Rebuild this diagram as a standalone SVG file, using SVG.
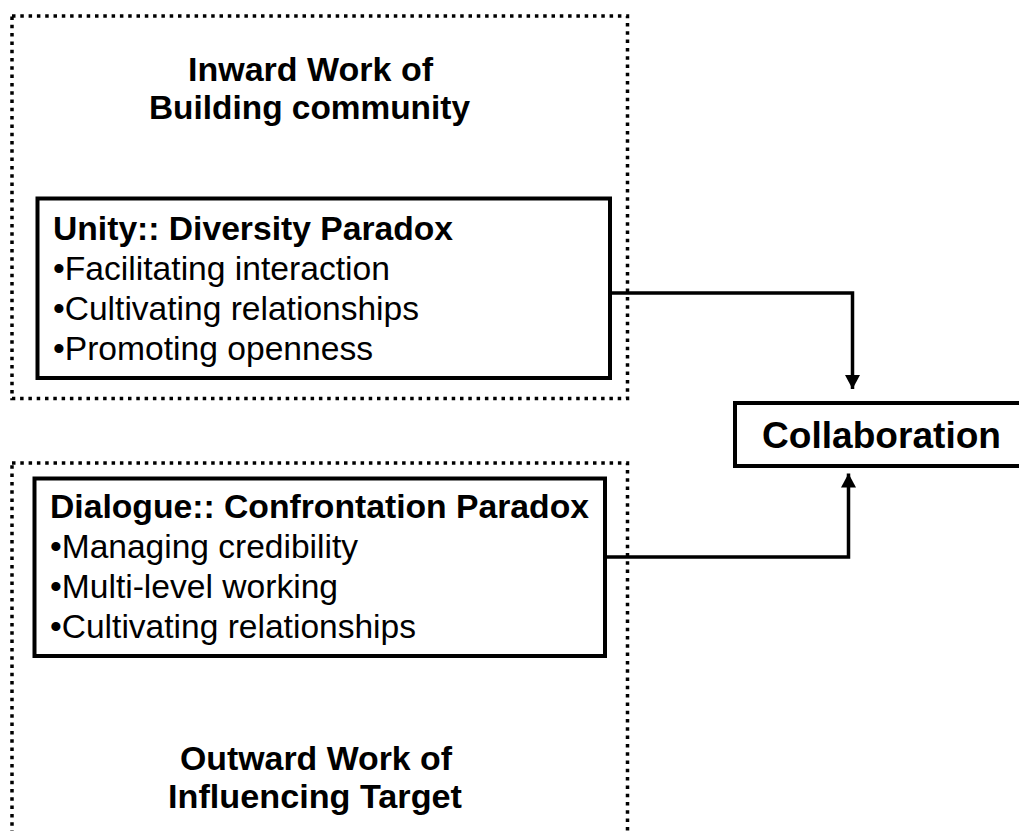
<svg xmlns="http://www.w3.org/2000/svg" width="1019" height="831" viewBox="0 0 1019 831">
<style>
.dot{fill:none;stroke:#000;stroke-width:3.5;stroke-dasharray:3.5 4.8}
.box{fill:#fff;stroke:#000;stroke-width:4}
.con{fill:none;stroke:#000;stroke-width:3.5}
.t{font-family:"Liberation Sans",Arial,Helvetica,sans-serif;fill:#000;font-size:34px}
.b{font-weight:bold}
</style>
<defs>
<marker id="ah" markerWidth="14" markerHeight="15" refX="14" refY="7.5" orient="auto" markerUnits="userSpaceOnUse" viewBox="0 0 14 15">
<path d="M0,0 L14,7.5 L0,15 Z" fill="#000"/>
</marker>
</defs>
<rect width="1019" height="831" fill="#fff"/>
<g id="inward-group">
<rect class="dot" x="12" y="16" width="615.5" height="382.5"/>
<text class="t b" x="310.5" y="81" text-anchor="middle" textLength="245" lengthAdjust="spacingAndGlyphs">Inward Work of</text>
<text class="t b" x="309.5" y="119" text-anchor="middle" textLength="321" lengthAdjust="spacingAndGlyphs">Building community</text>
</g>
<g id="outward-group">
<rect class="dot" x="12" y="463" width="615.5" height="400"/>
<text class="t b" x="316" y="770" text-anchor="middle" textLength="272" lengthAdjust="spacingAndGlyphs">Outward Work of</text>
<text class="t b" x="315" y="808" text-anchor="middle" textLength="294" lengthAdjust="spacingAndGlyphs">Influencing Target</text>
</g>
<g id="connectors">
<polyline class="con" points="610,293 852.5,293 852.5,389" marker-end="url(#ah)"/>
<polyline class="con" points="605,557 848.5,557 848.5,473.5" marker-end="url(#ah)"/>
</g>
<g id="unity">
<rect class="box" x="37.5" y="198.5" width="572.5" height="179.5"/>
<text class="t b" x="53" y="240" textLength="400" lengthAdjust="spacingAndGlyphs">Unity:: Diversity Paradox</text>
<text class="t" x="53" y="280" textLength="337" lengthAdjust="spacingAndGlyphs">•Facilitating interaction</text>
<text class="t" x="53" y="320" textLength="366" lengthAdjust="spacingAndGlyphs">•Cultivating relationships</text>
<text class="t" x="53" y="360" textLength="320" lengthAdjust="spacingAndGlyphs">•Promoting openness</text>
</g>
<g id="dialogue">
<rect class="box" x="34.5" y="478.5" width="570.5" height="177.5"/>
<text class="t b" x="50" y="518" textLength="539" lengthAdjust="spacingAndGlyphs">Dialogue:: Confrontation Paradox</text>
<text class="t" x="50" y="558" textLength="308" lengthAdjust="spacingAndGlyphs">•Managing credibility</text>
<text class="t" x="50" y="598" textLength="288" lengthAdjust="spacingAndGlyphs">•Multi-level working</text>
<text class="t" x="50" y="638" textLength="366" lengthAdjust="spacingAndGlyphs">•Cultivating relationships</text>
</g>
<g id="collaboration">
<rect class="box" x="735" y="403" width="300" height="63"/>
<text class="t b" x="881.5" y="447.5" text-anchor="middle" style="font-size:37px" textLength="239" lengthAdjust="spacingAndGlyphs">Collaboration</text>
</g>
</svg>
